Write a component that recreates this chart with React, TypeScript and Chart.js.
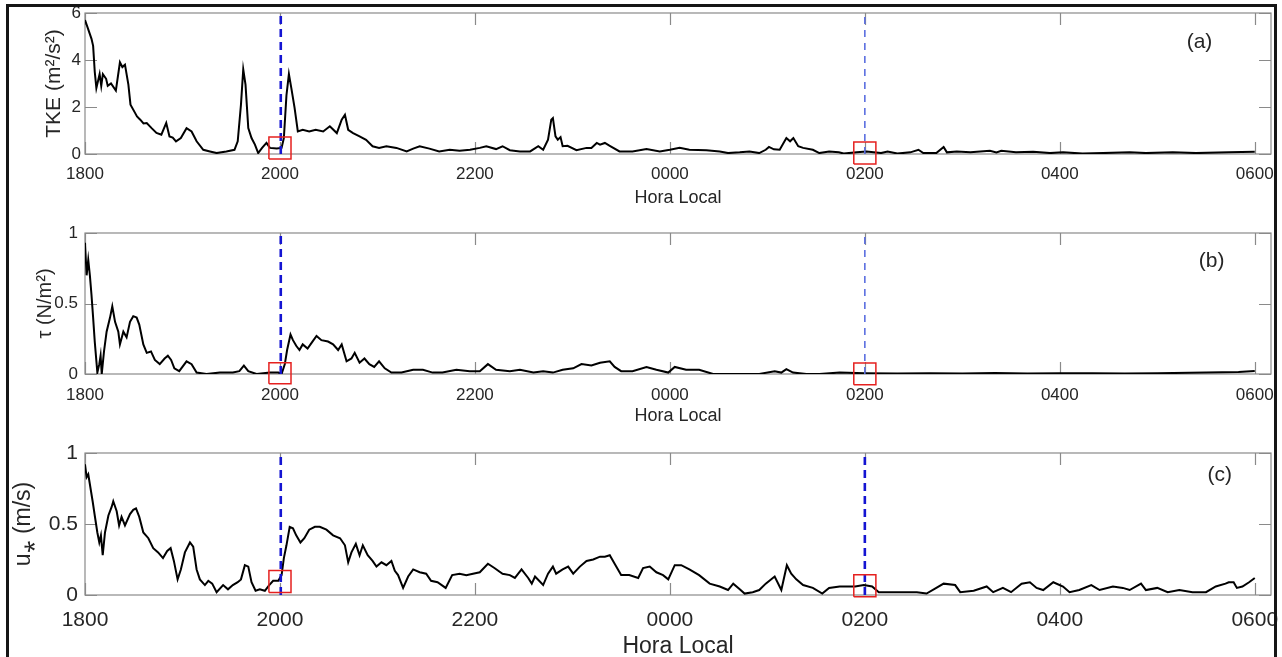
import React, { useEffect, useRef } from "react";
import { Chart, registerables } from "chart.js";

Chart.register(...registerables);

// ---------- Axis ticks (minutes after 18:00) ----------
const hourTicks = [0, 120, 240, 360, 480, 600, 720];
const hourLabels = ["1800", "2000", "2200", "0000", "0200", "0400", "0600"];

// ---------- (a) TKE ----------
const tkeTime = [0, 2, 4, 5, 6, 7, 9, 10, 11, 13, 14, 16, 19, 21.5, 23, 24.6, 26.7, 28, 30.8, 32, 34, 36, 38, 41, 44, 47, 50, 52, 54, 56, 59, 62.5, 65.6, 68.7, 72.8, 76.9, 81, 87, 92, 94, 96, 97.4, 98.8, 100.5, 102.5, 104.6, 106.6, 109, 111.7, 113.8, 118, 121, 122.4, 124, 125.5, 127, 129, 131, 134, 138, 142, 146.6, 150.7, 155, 158, 160, 162, 165, 169, 173, 177, 181, 185.5, 191.7, 198, 202, 206, 212, 218, 224.5, 230.6, 237, 243, 247, 253, 257, 261.5, 267.7, 274, 279, 282, 285, 287, 288, 289.6, 291, 292.7, 294, 297, 302.5, 308.7, 311.7, 315, 317, 320, 323, 329, 337, 345.6, 353.8, 360, 366, 372, 382.5, 390.7, 395.8, 403, 409, 415, 419, 421, 424, 427.6, 431.7, 434, 436, 439, 442, 448, 452, 458, 464, 467, 475, 481, 490, 494, 500, 508, 513, 516, 524, 528.5, 530.5, 536.6, 545, 557, 561, 564, 573, 583.6, 594, 602, 614, 626.6, 643, 653, 669.5, 683.8, 704, 720];
const tkeValue = [5.7, 5.3, 4.9, 4.6, 3.5, 2.8, 3.4, 2.9, 3.4, 3.2, 2.9, 3.0, 2.7, 3.9, 3.7, 3.8, 2.95, 2.1, 1.75, 1.6, 1.46, 1.3, 1.32, 1.1, 0.9, 0.82, 1.32, 0.75, 0.7, 0.54, 0.68, 1.1, 0.96, 0.54, 0.18, 0.11, 0.04, 0.11, 0.18, 0.54, 2.1, 3.6, 2.95, 1.1, 0.68, 0.4, 0.04, 0.26, 0.47, 0.26, 0.23, 0.26, 0.68, 2.5, 3.4, 2.8, 1.96, 0.96, 1.03, 0.96, 1.03, 0.96, 1.18, 0.89, 1.46, 1.67, 1.03, 0.89, 0.75, 0.6, 0.33, 0.26, 0.33, 0.26, 0.11, 0.23, 0.33, 0.23, 0.11, 0.18, 0.14, 0.18, 0.26, 0.33, 0.21, 0.33, 0.16, 0.11, 0.11, 0.33, 0.18, 0.61, 1.46, 1.53, 0.75, 0.61, 0.72, 0.33, 0.35, 0.16, 0.26, 0.26, 0.47, 0.4, 0.47, 0.35, 0.11, 0.11, 0.21, 0.11, 0.18, 0.26, 0.18, 0.16, 0.11, 0.04, 0.07, 0.11, 0.04, 0.18, 0.3, 0.2, 0.18, 0.68, 0.54, 0.68, 0.33, 0.26, 0.18, 0.04, 0.11, 0.07, 0.02, 0.07, 0.11, 0.04, 0.11, 0.02, 0.07, 0.18, 0.04, 0.04, 0.3, 0.07, 0.11, 0.07, 0.14, 0.07, 0.14, 0.07, 0.1, 0.04, 0.07, 0.02, 0.04, 0.07, 0.04, 0.07, 0.04, 0.07, 0.1];

// ---------- (b) tau ----------
const tauTime = [0, 1, 2, 3, 4, 5, 6, 7.6, 8.8, 9.6, 10.3, 11.7, 13.3, 15.4, 16.8, 18.5, 20.5, 21.5, 23.6, 25.6, 27.7, 29.7, 31.8, 33.4, 35.9, 38, 40.6, 43, 46, 49, 51, 53, 55, 58, 62.5, 65.6, 68.7, 74.8, 83, 91, 95, 97.8, 100.5, 105.6, 113.8, 119, 121, 123, 124.4, 126.5, 128, 130, 132, 134, 137, 140, 142.5, 145.5, 149.6, 152.7, 155.8, 158, 161, 164, 166, 169, 172, 175, 178, 181, 184.5, 188.6, 194.8, 202, 208, 214, 220, 228.6, 236.8, 243, 248, 253, 261.5, 267.7, 276, 282, 288, 294, 300.5, 305.6, 311.7, 317, 323, 326, 330, 337, 345.6, 351.7, 359, 363, 370, 378, 386.6, 397, 407, 415, 424.5, 428.6, 431.7, 435.8, 444, 452, 464.5, 480, 500, 520, 540, 560, 580, 600, 620, 640, 660, 680, 700, 710, 720];
const tauValue = [0.93, 0.7, 0.81, 0.7, 0.56, 0.4, 0.23, 0.01, 0.07, 0.13, 0.0, 0.16, 0.3, 0.4, 0.48, 0.37, 0.3, 0.21, 0.3, 0.26, 0.37, 0.41, 0.4, 0.35, 0.21, 0.15, 0.16, 0.1, 0.07, 0.11, 0.13, 0.1, 0.04, 0.02, 0.09, 0.07, 0.01, 0.0, 0.01, 0.01, 0.02, 0.06, 0.02, 0.0, 0.01, 0.01, 0.0, 0.07, 0.17, 0.28, 0.24, 0.2, 0.17, 0.21, 0.18, 0.23, 0.27, 0.24, 0.23, 0.21, 0.17, 0.21, 0.09, 0.11, 0.15, 0.08, 0.11, 0.07, 0.05, 0.09, 0.04, 0.01, 0.01, 0.03, 0.03, 0.01, 0.01, 0.03, 0.02, 0.02, 0.07, 0.03, 0.02, 0.03, 0.01, 0.02, 0.01, 0.03, 0.04, 0.07, 0.06, 0.08, 0.09, 0.05, 0.02, 0.02, 0.05, 0.03, 0.01, 0.05, 0.03, 0.03, 0.0, 0.0, 0.0, 0.0, 0.02, 0.01, 0.035, 0.01, 0.0, 0.0, 0.01, 0.005, 0.003, 0.006, 0.004, 0.007, 0.004, 0.006, 0.005, 0.004, 0.006, 0.008, 0.012, 0.015, 0.022];

// ---------- (c) u* ----------
const ustarTime = [0, 1, 2, 3, 4.7, 6, 7.6, 8.8, 9.8, 10.9, 12.3, 14.4, 16.4, 17.4, 19.5, 21, 22.5, 24.6, 27.7, 29.7, 31.4, 33.4, 35.9, 39, 42, 45, 48, 50.6, 52.7, 54.7, 57, 59, 61.5, 64.6, 66.6, 68.7, 70.7, 73.8, 75.9, 78.3, 81, 85, 88, 91, 94, 96, 98.4, 100.5, 102.5, 105, 107.6, 110.7, 113.4, 115.8, 119, 121, 122.4, 124, 126, 128, 130, 132.6, 135, 138, 141.5, 144.5, 148.6, 152.7, 157, 160, 162, 164, 166.7, 169, 171, 174, 177, 179.4, 182.5, 185.5, 188.6, 190.7, 192.7, 195.8, 198.9, 202, 206, 210, 213, 217, 222, 226, 230.6, 234.7, 238.8, 243, 248, 252, 257, 261.5, 264.6, 268.7, 272.8, 275, 277, 282, 285, 288, 290, 294, 297.4, 300.5, 304.6, 308.7, 312.8, 317, 320, 323, 326, 330, 335, 340.5, 343.5, 347.6, 351.7, 355.8, 359, 363, 367, 372, 378, 384.5, 390.7, 395.8, 399, 403, 406, 411, 415, 419, 424.5, 428.6, 432, 434.7, 437.8, 442, 448, 453.8, 458, 464.5, 474, 479.4, 484.5, 488.6, 495.7, 504, 512, 518, 524, 528.5, 535.6, 538.7, 547, 555, 559, 565, 570, 576.5, 581.6, 585.7, 589.8, 596, 602, 606, 612, 619.4, 624.5, 632.7, 638.8, 643, 650, 653, 660, 666.4, 673.6, 681.7, 690, 696, 702, 704, 707, 709, 712.4, 716.5, 720];
const ustarValue = [0.92, 0.83, 0.85, 0.78, 0.66, 0.56, 0.44, 0.37, 0.42, 0.28, 0.44, 0.56, 0.62, 0.66, 0.59, 0.49, 0.55, 0.49, 0.57, 0.6, 0.61, 0.55, 0.44, 0.4, 0.33, 0.3, 0.26, 0.31, 0.33, 0.24, 0.11, 0.18, 0.3, 0.37, 0.34, 0.18, 0.11, 0.07, 0.1, 0.08, 0.02, 0.07, 0.04, 0.07, 0.09, 0.11, 0.21, 0.2, 0.09, 0.03, 0.04, 0.03, 0.07, 0.1, 0.1, 0.14, 0.26, 0.35, 0.48, 0.47, 0.42, 0.37, 0.4, 0.46, 0.48, 0.48, 0.46, 0.42, 0.4, 0.35, 0.23, 0.3, 0.36, 0.28, 0.35, 0.28, 0.24, 0.2, 0.23, 0.21, 0.24, 0.17, 0.14, 0.05, 0.13, 0.18, 0.16, 0.15, 0.1, 0.09, 0.05, 0.14, 0.15, 0.14, 0.15, 0.16, 0.22, 0.19, 0.15, 0.14, 0.12, 0.18, 0.12, 0.08, 0.13, 0.07, 0.15, 0.2, 0.15, 0.18, 0.2, 0.15, 0.2, 0.24, 0.25, 0.27, 0.27, 0.28, 0.22, 0.14, 0.14, 0.12, 0.19, 0.2, 0.16, 0.14, 0.11, 0.21, 0.21, 0.18, 0.14, 0.08, 0.06, 0.035, 0.08, 0.04, 0.01, 0.02, 0.035, 0.08, 0.13, 0.035, 0.21, 0.15, 0.11, 0.07, 0.05, 0.01, 0.05, 0.06, 0.06, 0.07, 0.06, 0.02, 0.02, 0.02, 0.02, 0.01, 0.05, 0.08, 0.07, 0.02, 0.03, 0.06, 0.02, 0.05, 0.02, 0.08, 0.09, 0.05, 0.035, 0.09, 0.06, 0.02, 0.035, 0.07, 0.035, 0.06, 0.05, 0.035, 0.08, 0.035, 0.05, 0.02, 0.035, 0.02, 0.02, 0.06, 0.08, 0.09, 0.09, 0.05, 0.06, 0.09, 0.12];

// ---------- Event markers (dashed lines) and red boxes ----------
const markerTimes = [120.5, 480];
const boxTimesStart = [113.2, 473.2];
const boxTimesEnd = [126.8, 486.8];
const boxLowA = [-0.21, -0.43];
const boxHighA = [0.72, 0.51];
const boxLowB = [-0.069, -0.076];
const boxHighB = [0.08, 0.078];
const boxLowC = [0.018, -0.012];
const boxHighC = [0.172, 0.142];

const yTicksA = [0, 2, 4, 6];
const yTicksBC = [0, 0.5, 1];

const FONT = '"Liberation Sans", Arial, Helvetica, sans-serif';
const TEXT = "#262626";
const AXIS = "#8a8a8a";

type PanelCfg = {
  time: number[];
  value: number[];
  yMax: number;
  yTicks: number[];
  yTitle: string;
  tag: string;
  tagAt: [number, number];
  boxLow: number[];
  boxHigh: number[];
  markerBold: boolean[];
  top: number;
  height: number;
  padTop: number;
  xAxisH: number;
  tickFont: number;
  titleFont: number;
  yTitleFont: number;
  tickPadX: number;
  tickPadY: number;
  titlePadBottom: number;
  yTitlePad: number;
};

const panels: PanelCfg[] = [
  {
    time: tkeTime, value: tkeValue, yMax: 6, yTicks: yTicksA, yTitle: "TKE (m\u00b2/s\u00b2)",
    tag: "(a)", tagAt: [686, 4.77], boxLow: boxLowA, boxHigh: boxHighA, markerBold: [true, false],
    top: 0, height: 215, padTop: 13, xAxisH: 61, tickFont: 17, titleFont: 18, yTitleFont: 21,
    tickPadX: 10, tickPadY: 4, titlePadBottom: 6, yTitlePad: 42,
  },
  {
    time: tauTime, value: tauValue, yMax: 1, yTicks: yTicksBC, yTitle: "\u03c4 (N/m\u00b2)",
    tag: "(b)", tagAt: [693.5, 0.8], boxLow: boxLowB, boxHigh: boxHighB, markerBold: [true, false],
    top: 215, height: 215, padTop: 18, xAxisH: 56, tickFont: 17, titleFont: 18, yTitleFont: 20,
    tickPadX: 11, tickPadY: 7, titlePadBottom: 3, yTitlePad: 33,
  },
  {
    time: ustarTime, value: ustarValue, yMax: 1, yTicks: yTicksBC, yTitle: "u\u204e (m/s)",
    tag: "(c)", tagAt: [698.5, 0.846], boxLow: boxLowC, boxHigh: boxHighC, markerBold: [true, true],
    top: 430, height: 240, padTop: 23, xAxisH: 75, tickFont: 21, titleFont: 23, yTitleFont: 23,
    tickPadX: 13, tickPadY: 7, titlePadBottom: 10, yTitlePad: 10,
  },
];

function Panel({ cfg }: { cfg: PanelCfg }) {
  const ref = useRef<HTMLCanvasElement | null>(null);
  useEffect(() => {
    if (!ref.current) return;
    const framePlugin = {
      id: "matlabFrame",
      beforeDatasetsDraw(chart: any) {
        const { ctx, chartArea, scales } = chart;
        const { left, right, top, bottom } = chartArea;
        ctx.save();
        ctx.strokeStyle = AXIS;
        ctx.lineWidth = 1.2;
        ctx.strokeRect(left, top, right - left, bottom - top);
        ctx.beginPath();
        for (const v of hourTicks) {
          const x = Math.round(scales.x.getPixelForValue(v)) + 0.5;
          ctx.moveTo(x, bottom);
          ctx.lineTo(x, bottom - 12);
          ctx.moveTo(x, top);
          ctx.lineTo(x, top + 12);
        }
        for (const v of cfg.yTicks) {
          const y = Math.round(scales.y.getPixelForValue(v)) + 0.5;
          ctx.moveTo(left, y);
          ctx.lineTo(left + 12, y);
          ctx.moveTo(right, y);
          ctx.lineTo(right - 12, y);
        }
        ctx.stroke();
        ctx.restore();
      },
      afterDraw(chart: any) {
        const { ctx, scales } = chart;
        ctx.save();
        ctx.fillStyle = TEXT;
        ctx.font = `21px ${FONT}`;
        ctx.textAlign = "center";
        ctx.textBaseline = "middle";
        ctx.fillText(cfg.tag, scales.x.getPixelForValue(cfg.tagAt[0]), scales.y.getPixelForValue(cfg.tagAt[1]));
        ctx.restore();
      },
    };

    const datasets: any[] = [
      {
        data: cfg.time.map((t, i) => ({ x: t, y: cfg.value[i] })),
        borderColor: "#000000",
        borderWidth: 2,
        pointRadius: 0,
        tension: 0,
        order: 3,
      },
    ];
    markerTimes.forEach((m, i) => {
      const bold = cfg.markerBold[i];
      datasets.push({
        data: [{ x: m, y: 0 }, { x: m, y: cfg.yMax }],
        borderColor: bold ? "#1414d2" : "#5b6fe0",
        borderWidth: bold ? 2.6 : 1.6,
        borderDash: bold ? [8, 5] : [7, 6],
        pointRadius: 0,
        order: 2,
      });
    });
    boxTimesStart.forEach((x0, i) => {
      const x1 = boxTimesEnd[i];
      const y0 = cfg.boxLow[i];
      const y1 = cfg.boxHigh[i];
      datasets.push({
        data: [
          { x: x0, y: y0 }, { x: x1, y: y0 }, { x: x1, y: y1 }, { x: x0, y: y1 }, { x: x0, y: y0 },
        ],
        borderColor: "#e5201f",
        borderWidth: 1.5,
        pointRadius: 0,
        clip: false,
        order: 1,
      });
    });

    const chart = new Chart(ref.current, {
      type: "line",
      data: { datasets },
      options: {
        responsive: false,
        devicePixelRatio: 1,
        animation: false,
        events: [],
        layout: { padding: { top: cfg.padTop, left: 0, right: 11, bottom: 0 } },
        plugins: { legend: { display: false }, tooltip: { enabled: false } },
        scales: {
          x: {
            type: "linear",
            min: 0,
            max: 730,
            afterBuildTicks: (s: any) => {
              s.ticks = hourTicks.map((v) => ({ value: v }));
            },
            afterFit: (s: any) => {
              s.height = cfg.xAxisH;
              s.paddingLeft = 0;
              s.paddingRight = 0;
            },
            grid: { display: false, drawTicks: false },
            border: { display: false },
            ticks: {
              autoSkip: false,
              maxRotation: 0,
              padding: cfg.tickPadX,
              color: TEXT,
              font: { family: FONT, size: cfg.tickFont },
              callback: (v: any) => {
                const i = hourTicks.indexOf(Number(v));
                return i >= 0 ? hourLabels[i] : "";
              },
            },
            title: {
              display: true,
              text: "Hora Local",
              color: TEXT,
              font: { family: FONT, size: cfg.titleFont },
              padding: { top: 0, bottom: cfg.titlePadBottom },
            },
          },
          y: {
            type: "linear",
            min: 0,
            max: cfg.yMax,
            afterBuildTicks: (s: any) => {
              s.ticks = cfg.yTicks.map((v) => ({ value: v }));
            },
            afterFit: (s: any) => {
              s.width = 85;
              s.paddingTop = 0;
              s.paddingBottom = 0;
            },
            grid: { display: false, drawTicks: false },
            border: { display: false },
            ticks: {
              padding: cfg.tickPadY,
              color: TEXT,
              font: { family: FONT, size: cfg.tickFont },
              callback: (v: any) => String(v),
            },
            title: {
              display: true,
              text: cfg.yTitle,
              color: TEXT,
              font: { family: FONT, size: cfg.yTitleFont },
              padding: { top: cfg.yTitlePad, bottom: 0 },
            },
          },
        },
      },
      plugins: [framePlugin],
    } as any);
    return () => chart.destroy();
  }, [cfg]);

  return (
    <div style={{ position: "absolute", left: 0, top: cfg.top, width: 1282, height: cfg.height }}>
      <canvas ref={ref} width={1282} height={cfg.height} style={{ display: "block", width: 1282, height: cfg.height }} />
    </div>
  );
}

export default function App() {
  return (
    <div
      style={{
        position: "absolute",
        left: 0,
        top: 0,
        width: 1282,
        height: 657,
        overflow: "hidden",
        background: "#ffffff",
      }}
    >
      {panels.map((p, i) => (
        <Panel key={i} cfg={p} />
      ))}
      <div
        style={{
          position: "absolute",
          left: 6,
          top: 4,
          width: 1271,
          height: 700,
          border: "3px solid #151515",
          boxSizing: "border-box",
          pointerEvents: "none",
        }}
      />
    </div>
  );
}
